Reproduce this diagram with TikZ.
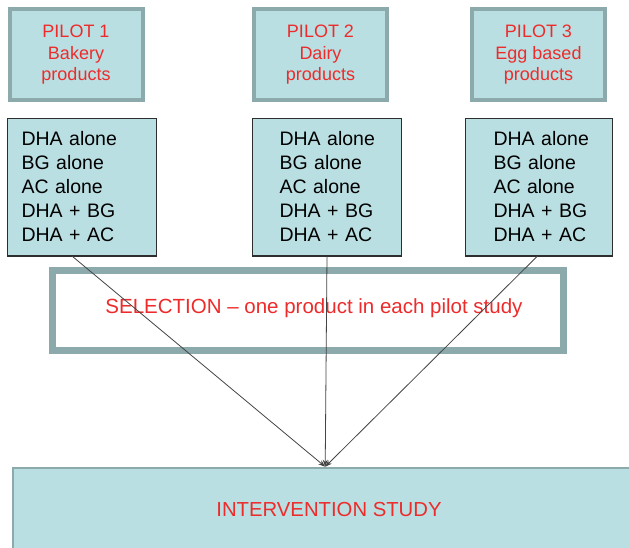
\documentclass[tikz,border=0pt]{standalone}
\usepackage{fontspec}
\setmainfont{Liberation Sans}
\usetikzlibrary{arrows.meta,calc}
\definecolor{boxfill}{HTML}{B9DFE2}
\definecolor{tealedge}{HTML}{8CA9AB}
\definecolor{redtext}{HTML}{EE2B2B}
\definecolor{listedge}{HTML}{2E2E2E}
\definecolor{linkclr}{HTML}{444444}
\newcommand{\mylistlines}[1]{%
  \hspace*{#1}DHA alone\\\hspace*{#1}BG alone\\\hspace*{#1}AC alone\\%
  \hspace*{#1}DHA + BG\\\hspace*{#1}DHA + AC}
\begin{document}
\begin{tikzpicture}[x=1pt,y=-1pt,
  pilotbox/.style={draw=tealedge, line width=4pt, fill=boxfill,
    minimum width=133pt, minimum height=91pt, inner sep=0pt,
    text=redtext, align=center, font=\fontsize{18}{21.5}\selectfont},
  listbox/.style={draw=listedge, line width=1pt, fill=boxfill,
    minimum height=137pt, inner xsep=0pt, inner ysep=0pt,
    align=left, font=\fontsize{19.5}{24}\selectfont},
  selbox/.style={draw=tealedge, line width=7pt, fill=white,
    minimum width=511pt, minimum height=80pt, inner sep=0pt},
  redlabel/.style={text=redtext, inner sep=0pt, font=\fontsize{20.5}{24}\selectfont},
  ivbox/.style={draw=tealedge, line width=2.5pt, fill=boxfill,
    minimum width=632pt, minimum height=84pt, inner sep=0pt,
    text=redtext, font=\fontsize{20.3}{24}\selectfont},
  link/.style={draw=linkclr, line width=0.8pt, -{Stealth[length=7pt,width=5pt]}},
  bottomedge/.style={draw=listedge, line width=2pt}
]
\useasboundingbox (0,0) rectangle (629,548);

% pilot boxes
\node[pilotbox] (p1) at (76,55) {PILOT 1\\Bakery\\products};
\node[pilotbox] (p2) at (320.5,55) {PILOT 2\\Dairy\\products};
\node[pilotbox] (p3) at (538.5,55) {PILOT 3\\Egg based\\products};

% list boxes
\node[listbox, text width=149pt] (l1) at (82,187) {\mylistlines{14pt}};
\node[listbox, text width=149pt] (l2) at (327,187) {\mylistlines{27pt}};
\node[listbox, text width=147pt] (l3) at (539,187) {\mylistlines{28pt}};
\foreach \n in {l1,l2,l3}
  \draw[bottomedge] (\n.south west) -- (\n.south east);

% selection box
\node[selbox] (sel) at (308,310.5) {};
\node[redlabel, anchor=base] (seltext) at (314,313)
  {SELECTION -- one product in each pilot study};

% intervention study
\node[ivbox] (iv) at (329,510) {INTERVENTION STUDY};

% connectors
\coordinate (s1) at ($(l1.south west)!0.433!(l1.south east)$);
\coordinate (s3) at ($(l3.south west)!0.49!(l3.south east)$);
\coordinate (t) at ($(iv.north west)!0.494!(iv.north east)$);
\draw[link] (s1) -- (t);
\draw[link] (l2.south) -- (t);
\draw[link] (s3) -- (t);
\end{tikzpicture}
\end{document}
